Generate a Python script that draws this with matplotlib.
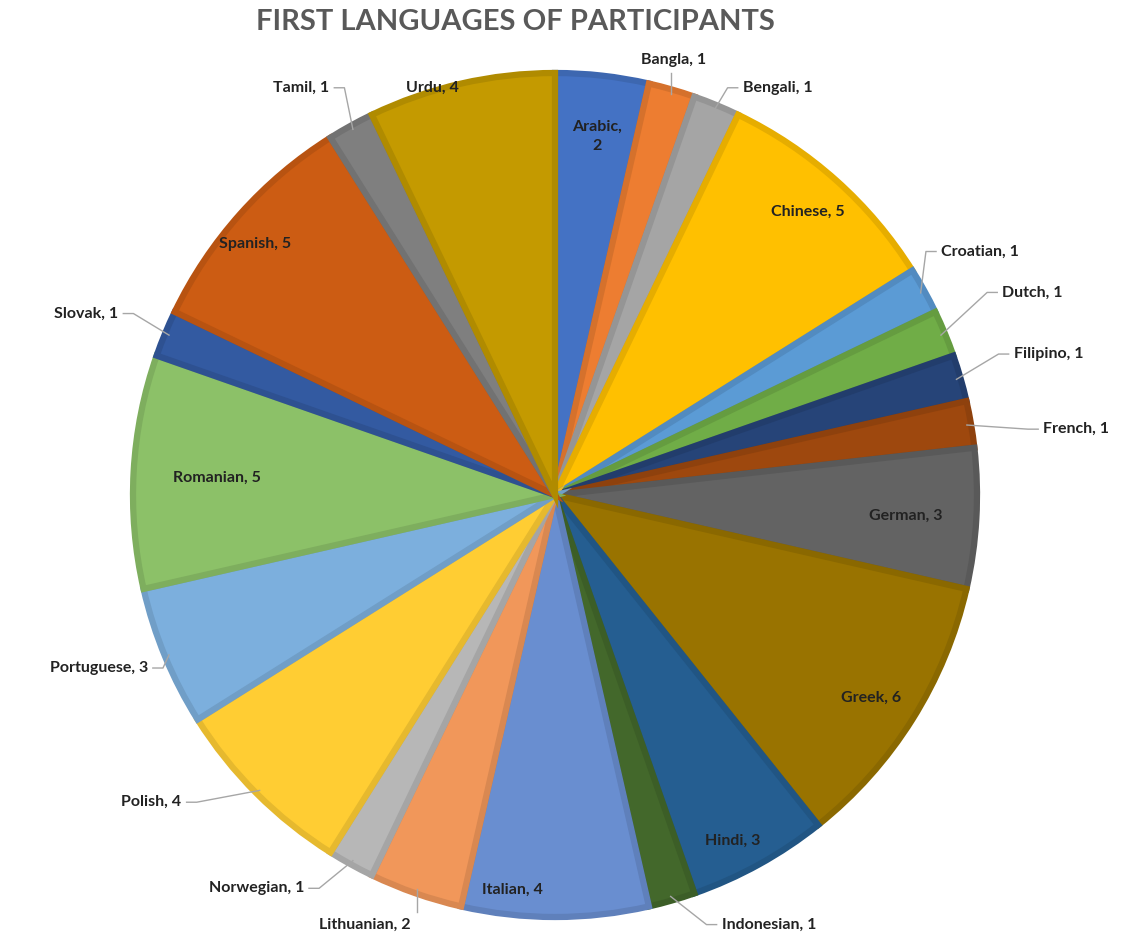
import numpy as np
import matplotlib.pyplot as plt
from matplotlib.colors import to_rgb

languages = ['Arabic', 'Bangla', 'Bengali', 'Chinese', 'Croatian', 'Dutch',
             'Filipino', 'French', 'German', 'Greek', 'Hindi', 'Indonesian',
             'Italian', 'Lithuanian', 'Norwegian', 'Polish', 'Portuguese',
             'Romanian', 'Slovak', 'Spanish', 'Tamil', 'Urdu']
counts = [2, 1, 1, 5, 1, 1, 1, 1, 3, 6, 3, 1, 4, 2, 1, 4, 3, 5, 1, 5, 1, 4]

# office-style palette: accents, then darker, then lighter, then dark again
colors = ['#4472C4', '#ED7D31', '#A5A5A5', '#FFC000', '#5B9BD5', '#70AD47',
          '#264478', '#9E480E', '#636363', '#997300', '#255E91', '#43682B',
          '#698ED0', '#F1975A', '#B7B7B7', '#FFCD33', '#7CAFDD', '#8CC168',
          '#335AA1', '#CC5C13', '#7F7F7F', '#C49A00']

# label centres in pie units (radius = 1, centre at origin)
inside_pos = {
    'Arabic': (0.10, 0.85), 'Chinese': (0.60, 0.67), 'German': (0.83, -0.05),
    'Greek': (0.75, -0.48), 'Hindi': (0.42, -0.82), 'Italian': (-0.10, -0.935),
    'Romanian': (-0.80, 0.04), 'Spanish': (-0.71, 0.595), 'Urdu': (-0.29, 0.965),
}
# outside labels: (text x, text y, horizontal alignment)
outside_pos = {
    'Bangla': (0.28, 1.03, 'center'), 'Bengali': (0.445, 0.965, 'left'),
    'Croatian': (0.915, 0.577, 'left'), 'Dutch': (1.06, 0.48, 'left'),
    'Filipino': (1.087, 0.334, 'left'), 'French': (1.157, 0.156, 'left'),
    'Indonesian': (0.395, -1.018, 'left'), 'Lithuanian': (-0.45, -1.018, 'center'),
    'Norwegian': (-0.595, -0.932, 'right'), 'Polish': (-0.885, -0.728, 'right'),
    'Portuguese': (-0.965, -0.41, 'right'), 'Slovak': (-1.035, 0.43, 'right'),
    'Tamil': (-0.535, 0.965, 'right'),
}


def darker(c, f=0.9):
    return tuple(v * f for v in to_rgb(c))


W, H = 1145, 938
cx, cy, R = 555, 495, 422
fig = plt.figure(figsize=(W / 100, H / 100), dpi=100)
ax = fig.add_axes([0, 0, 1, 1])

wedges, _ = ax.pie(counts, colors=colors, startangle=90, counterclock=False,
                   radius=1.0, center=(0, 0), frame=True)
for w, c in zip(wedges, colors):
    w.set_edgecolor(darker(c))
    w.set_linewidth(4.5)
ax.set_xlim(-cx / R, (W - cx) / R)
ax.set_ylim((cy - H) / R, cy / R)
ax.set_aspect('equal')
ax.axis('off')

font = dict(family='Lato', fontsize=11.5, fontweight='bold', color='#222222')
for name, n, w in zip(languages, counts, wedges):
    label = f'{name}, {n}'
    if name in inside_pos:
        x, y = inside_pos[name]
        if name == 'Arabic':
            label = f'{name},\n{n}'
        ax.text(x, y, label, ha='center', va='center', linespacing=1.4, **font)
        continue
    tx, ty, ha = outside_pos[name]
    mid = np.deg2rad((w.theta1 + w.theta2) / 2)
    ex, ey = 0.99 * np.cos(mid), 0.99 * np.sin(mid)
    ax.text(tx, ty, label, ha=ha, va='center', **font)
    if ha == 'center':
        # vertical leader straight to the rim
        off = -0.03 if ty > 0 else 0.03
        ax.plot([ex, ex], [ey, ty + off], color='#a6a6a6', lw=1)
    else:
        d = 0.012 if ha == 'left' else -0.012
        kx = tx - d
        kx2 = kx - 2 * d
        ax.plot([ex, kx2, kx], [ey, ty, ty], color='#a6a6a6', lw=1)

fig.text(515 / W, 1 - 22 / H, 'FIRST LANGUAGES OF PARTICIPANTS', ha='center',
         va='center', family='Lato', fontsize=21, fontweight='bold',
         color='#595959')

fig.savefig('out.png', dpi=100, facecolor='white')
